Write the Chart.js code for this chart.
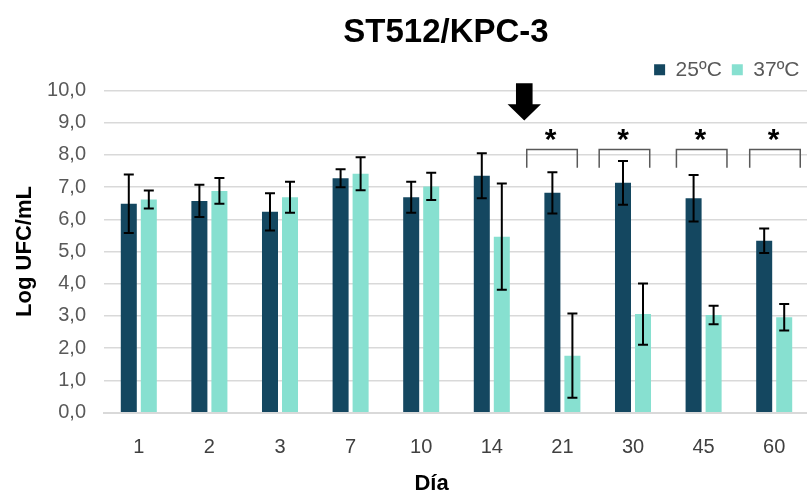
<!DOCTYPE html>
<html>
<head>
<meta charset="utf-8">
<script src="https://cdn.jsdelivr.net/npm/chart.js@4.4.1/dist/chart.umd.min.js"></script>
<style>
html,body{margin:0;padding:0;overflow:hidden;background:#fff}
#wrap{width:812px;height:493px;position:relative}
</style>
</head>
<body>
<div id="wrap"><canvas id="c" width="812" height="493"></canvas></div>
<script>
// ---- data ----
const days   = ['1','2','3','7','10','14','21','30','45','60'];
const t25    = [6.48, 6.57, 6.23, 7.27, 6.68, 7.35, 6.82, 7.13, 6.65, 5.33];
const err25  = [0.91, 0.50, 0.58, 0.28, 0.48, 0.70, 0.64, 0.68, 0.72, 0.38];
const t37    = [6.61, 6.88, 6.68, 7.41, 7.02, 5.46, 1.77, 3.06, 3.03, 2.96];
const err37  = [0.28, 0.40, 0.48, 0.51, 0.42, 1.65, 1.31, 0.95, 0.29, 0.41];
const seriesNames = ['25ºC', '37ºC'];
const yTicks = [0,1,2,3,4,5,6,7,8,9,10];
const sigDays = ['21','30','45','60'];

const FONT = '"Liberation Sans", Arial, sans-serif';
const DARK = '#144760';
const LIGHT = '#87E0D0';

// annotation layout (not data)
const bracketShift = [-0.147, -0.121, -0.027, 0.011];
const bracketHalf = 0.358;
const bracketTopVal = 8.16, bracketBotVal = 7.6, starVal = 8.72;

const overlay = {
  id: 'overlay',
  afterDatasetsDraw(chart) {
    const ctx = chart.ctx, xs = chart.scales.x, ys = chart.scales.y;
    const errs = [err25, err37];
    ctx.save();
    ctx.strokeStyle = '#000';
    ctx.lineWidth = 2;
    chart.data.datasets.forEach((ds, di) => {
      const meta = chart.getDatasetMeta(di);
      meta.data.forEach((bar, i) => {
        const v = ds.data[i], e = errs[di][i];
        const cx = bar.x;
        const hi = ys.getPixelForValue(v + e), lo = ys.getPixelForValue(v - e);
        ctx.beginPath();
        ctx.moveTo(cx, hi); ctx.lineTo(cx, lo);
        ctx.moveTo(cx - 5, hi); ctx.lineTo(cx + 5, hi);
        ctx.moveTo(cx - 5, lo); ctx.lineTo(cx + 5, lo);
        ctx.stroke();
      });
    });
    ctx.restore();

    const cw = xs.getPixelForValue(1) - xs.getPixelForValue(0);
    // significance brackets and asterisks
    ctx.save();
    ctx.strokeStyle = '#595959';
    ctx.lineWidth = 1.5;
    const top = ys.getPixelForValue(bracketTopVal), bot = ys.getPixelForValue(bracketBotVal);
    const starSize = 30;
    ctx.font = 'bold ' + starSize + 'px ' + FONT;
    sigDays.forEach((d, k) => {
      const c = xs.getPixelForValue(days.indexOf(d)) + bracketShift[k] * cw;
      const l = c - bracketHalf * cw, r = c + bracketHalf * cw;
      ctx.beginPath();
      ctx.moveTo(l, bot); ctx.lineTo(l, top); ctx.lineTo(r, top); ctx.lineTo(r, bot);
      ctx.stroke();
      ctx.fillStyle = '#000';
      ctx.textAlign = 'center';
      ctx.textBaseline = 'alphabetic';
      const yc = ys.getPixelForValue(starVal);
      ctx.fillText('*', c - 0.02 * cw, yc + 0.58 * starSize);
    });
    ctx.restore();

    // arrow between day 14 and day 21
    const ax = xs.getPixelForValue(days.indexOf('14')) + 0.46 * cw;
    const aTop = ys.getPixelForValue(10.22), aNeck = ys.getPixelForValue(9.57), aTip = ys.getPixelForValue(9.06);
    ctx.save();
    ctx.fillStyle = '#000';
    ctx.beginPath();
    ctx.moveTo(ax - 8.3, aTop);
    ctx.lineTo(ax + 8.3, aTop);
    ctx.lineTo(ax + 8.3, aNeck);
    ctx.lineTo(ax + 16.7, aNeck);
    ctx.lineTo(ax, aTip);
    ctx.lineTo(ax - 16.7, aNeck);
    ctx.lineTo(ax - 8.3, aNeck);
    ctx.closePath();
    ctx.fill();
    ctx.restore();
  },
  afterDraw(chart) {
    const ctx = chart.ctx;
    ctx.save();
    ctx.fillStyle = '#000';
    ctx.textAlign = 'center';
    ctx.textBaseline = 'alphabetic';
    ctx.font = 'bold 33px ' + FONT;
    ctx.fillText('ST512/KPC-3', 446, 42.3);
    ctx.font = 'bold 22px ' + FONT;
    ctx.fillText('Día', 431.5, 490);
    ctx.restore();
  }
};

Chart.defaults.font.family = FONT;

new Chart(document.getElementById('c'), {
  type: 'bar',
  data: {
    labels: days,
    datasets: [
      { label: seriesNames[0], data: t25, backgroundColor: DARK, borderWidth: 0 },
      { label: seriesNames[1], data: t37, backgroundColor: LIGHT, borderWidth: 0 }
    ]
  },
  options: {
    responsive: false,
    animation: false,
    devicePixelRatio: 1,
    categoryPercentage: 0.567,
    barPercentage: 0.8,
    layout: { padding: { top: 49.3, right: 2.5, left: 0, bottom: 0 } },
    plugins: {
      legend: {
        display: true,
        position: 'top',
        align: 'end',
        labels: {
          boxWidth: 11, boxHeight: 11, padding: 10,
          color: '#595959',
          font: { size: 21 }
        }
      },
      title: { display: false },
      tooltip: { enabled: false }
    },
    scales: {
      x: {
        grid: { display: false },
        border: { display: true, color: '#D9D9D9', width: 2 },
        ticks: { color: '#404040', font: { size: 20 }, padding: 15 },
        afterFit(s) { s.height = 80.3; }
      },
      y: {
        min: 0, max: 10,
        afterBuildTicks(s) { s.ticks = yTicks.map(v => ({ value: v })); },
        grid: { color: '#D9D9D9', lineWidth: 1.5, drawTicks: false },
        border: { display: false },
        ticks: {
          color: '#595959', font: { size: 20 }, padding: 17.5,
          callback: v => Number(v).toFixed(1).replace('.', ',')
        },
        title: {
          display: true, text: 'Log UFC/mL', color: '#000',
          font: { size: 22, weight: 'bold' }, padding: { top: 12, bottom: 0 }
        },
        afterFit(s) { s.width = 103.5; }
      }
    }
  },
  plugins: [overlay]
});
</script>
</body>
</html>
